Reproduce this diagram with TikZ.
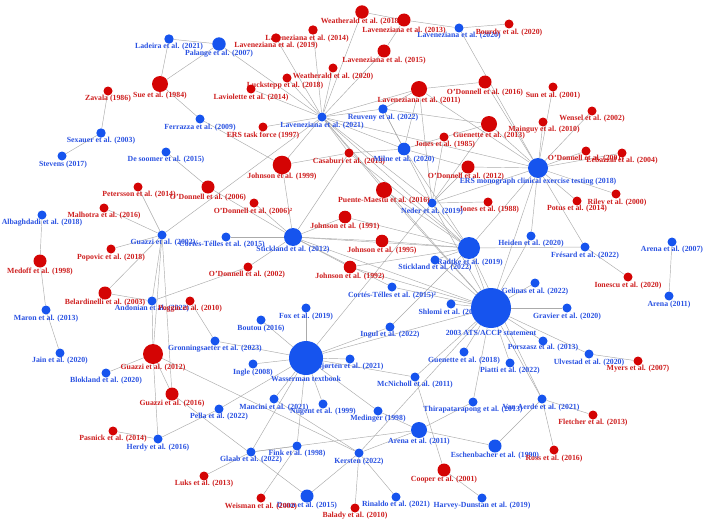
\documentclass[tikz,border=0pt]{standalone}
\usepackage{fontspec}
\setmainfont{Liberation Serif}
\pgfdeclarelayer{bg}
\pgfsetlayers{bg,main}
\definecolor{B}{RGB}{22,84,238}
\definecolor{R}{RGB}{212,4,4}
\definecolor{Btxt}{RGB}{42,82,226}
\definecolor{Rtxt}{RGB}{206,30,30}
\tikzset{
  dot/.style={circle,inner sep=0pt,draw=none},
  lbl/.style={inner sep=0pt,font=\bfseries\fontsize{7.8}{8}\selectfont},
  edge/.style={draw=black!33,line width=0.45pt}
}
\newcommand\gn[8]{%
  \node[dot,fill=#5,minimum size={2*#4}] (#1) at (#2,#3) {};
  \node[lbl,text=#5txt] (#1-l) at (#7,#8) {#6};
}
\begin{document}
\begin{tikzpicture}[x=1pt,y=-1pt]
\begin{pgfonlayer}{bg}
\fill[white] (0,0) rectangle (704,527);
\end{pgfonlayer}
\useasboundingbox (0,0) rectangle (704,527);
\gn{lad}{169}{39}{4.7}{B}{Ladeira et al. (2021)}{169}{47}
\gn{pal}{219}{44}{6.7}{B}{Palange et al. (2007)}{219}{54}
\gn{sue}{160}{84}{8}{R}{Sue et al. (1984)}{160}{96}
\gn{zav}{108}{91}{4.5}{R}{Zavala (1986)}{108}{99}
\gn{fer}{200}{119}{4.5}{B}{Ferrazza et al. (2009)}{200}{128}
\gn{sex}{101}{133}{4.7}{B}{Sexauer et al. (2003)}{101}{141}
\gn{ste}{62}{156}{4.5}{B}{Stevens (2017)}{63}{165}
\gn{des}{166}{152}{4.5}{B}{De soomer et al. (2015)}{166}{160}
\gn{wea18}{362}{12}{6.7}{R}{Weatherald et al. (2018)}{361}{22}
\gn{lav13}{404}{20}{6.5}{R}{Laveneziana et al. (2013)}{404}{31}
\gn{lav20}{459}{28}{4.5}{B}{Laveneziana et al. (2020)}{459}{36}
\gn{bou}{509}{24}{4.5}{R}{Bourdy et al. (2020)}{509}{33}
\gn{lav14}{313}{30}{4.7}{R}{Laveneziana et al. (2014)}{307}{39}
\gn{lav19}{276}{38}{4.7}{R}{Laveneziana et al. (2019)}{276}{46}
\gn{lav15}{384}{51}{6.5}{R}{Laveneziana et al. (2015)}{384}{61}
\gn{wea20}{333}{68}{4.5}{R}{Weatherald et al. (2020)}{333}{77}
\gn{luc}{287}{78}{4.5}{R}{Luckstepp et al. (2018)}{285}{86}
\gn{lavi}{251}{89}{4.5}{R}{Laviolette et al. (2014)}{251}{98}
\gn{lav21}{322}{117}{4.5}{B}{Laveneziana et al. (2021)}{322}{126}
\gn{reu}{383}{109}{4.7}{B}{Reuveny et al. (2022)}{383}{118}
\gn{lav11}{419}{89}{8}{R}{Laveneziana et al. (2011)}{419}{101}
\gn{ers97}{263}{127}{4.5}{R}{ERS task force (1997)}{263}{136}
\gn{cas}{349}{153}{4.5}{R}{Casaburi et al. (2013)}{349}{162}
\gn{joh99}{282}{165}{9.3}{R}{Johnson et al. (1999)}{282}{177}
\gn{mil}{404}{149}{6.3}{B}{Milne et al. (2020)}{404}{160}
\gn{jon85}{444}{137}{4.5}{R}{Jones et al. (1985)}{445}{145}
\gn{gue13}{489}{124}{8}{R}{Guenette et al. (2013)}{489}{136}
\gn{odo16}{485}{82}{6.5}{R}{O'Donnell et al. (2016)}{485}{93}
\gn{odo12}{468}{167}{6.5}{R}{O'Donnell et al. (2012)}{466}{177}
\gn{sun}{553}{87}{4.5}{R}{Sun et al. (2001)}{553}{96}
\gn{wen}{592}{111}{4.5}{R}{Wensel et al. (2002)}{592}{119}
\gn{mai}{543}{122}{4.5}{R}{Mainguy et al. (2010)}{544}{130}
\gn{ersm}{538}{168}{10}{B}{ERS monograph clinical exercise testing (2018)}{538}{182}
\gn{odo04}{586}{151}{4.5}{R}{O'Donnell et al. (2001)}{586}{159}
\gn{x04}{622}{153}{4.5}{R}{Lebazzal et al. (2004)}{622}{161}
\gn{ril}{616}{194}{4.5}{R}{Riley et al. (2000)}{617}{203}
\gn{pot}{577}{201}{4.5}{R}{Potus et al. (2014)}{577}{209}
\gn{jon88}{488}{202}{4.5}{R}{Jones et al. (1988)}{489}{210}
\gn{ned}{432}{203}{4.5}{B}{Neder et al. (2019)}{432}{212}
\gn{pue}{384}{190}{8}{R}{Puente-Maestu et al. (2016)}{384}{201}
\gn{joh91}{345}{217}{6.3}{R}{Johnson et al. (1991)}{345}{227}
\gn{sti12}{293}{237}{9}{B}{Stickland et al. (2012)}{293}{250}
\gn{joh95}{382}{241}{6.3}{R}{Johnson et al. (1995)}{382}{251}
\gn{joh92}{350}{267}{6.3}{R}{Johnson et al. (1992)}{350}{277}
\gn{odo02}{248}{267}{4.5}{R}{O'Donnell et al. (2002)}{247}{275}
\gn{odo06b}{254}{203}{4.5}{R}{O'Donnell et al. (2006)²}{253}{212}
\gn{odo06}{208}{187}{6.5}{R}{O'Donnell et al. (2006)}{208}{198}
\gn{cor15}{226}{237}{4.5}{B}{Cortés-Télles et al. (2015)}{222}{245}
\gn{rad}{469}{248}{11}{B}{Radtke et al. (2019)}{470}{263}
\gn{sti22}{435}{260}{4.5}{B}{Stickland et al. (2022)}{435}{268}
\gn{cor15b}{392}{287}{4.5}{B}{Cortés-Télles et al. (2015)²}{392}{296}
\gn{shl}{451}{304}{4.5}{B}{Shlomi et al. (2021)}{451}{313}
\gn{ats}{491}{308}{20}{B}{2003 ATS/ACCP statement}{491}{333}
\gn{gel}{535}{283}{4.5}{B}{Gelinas et al. (2022)}{535}{292}
\gn{hei}{531}{236}{4.5}{B}{Heiden et al. (2020)}{531}{244}
\gn{fre}{585}{247}{4.5}{B}{Frésard et al. (2022)}{585}{256}
\gn{ion}{628}{277}{4.5}{R}{Ionescu et al. (2020)}{628}{286}
\gn{are07}{672}{242}{4.5}{B}{Arena et al. (2007)}{672}{250}
\gn{are11b}{669}{296}{4.5}{B}{Arena (2011)}{669}{305}
\gn{gra}{567}{308}{4.5}{B}{Gravier et al. (2020)}{567}{317}
\gn{por}{543}{341}{4.5}{B}{Porszasz et al. (2013)}{543}{348}
\gn{ulv}{589}{354}{4.5}{B}{Ulvestad et al. (2020)}{589}{363}
\gn{mye}{638}{361}{4.5}{R}{Myers et al. (2007)}{638}{369}
\gn{pia}{510}{363}{4.5}{B}{Piatti et al. (2022)}{510}{371}
\gn{gue18}{464}{352}{4.5}{B}{Guenette et al. (2018)}{464}{361}
\gn{van}{542}{399}{4.5}{B}{Van Aerde et al. (2021)}{541}{408}
\gn{fle}{593}{415}{4.5}{R}{Fletcher et al. (2013)}{593}{423}
\gn{thi}{473}{402}{4.5}{B}{Thirapatarapong et al. (2013)}{473}{410}
\gn{esc}{495}{446}{6.5}{B}{Eschenbacher et al. (1990)}{495}{456}
\gn{ros}{554}{450}{4.5}{R}{Ross et al. (2016)}{554}{459}
\gn{coo}{444}{470}{6.5}{R}{Cooper et al. (2001)}{444}{480}
\gn{har}{482}{498}{4.5}{B}{Harvey-Dunstan et al. (2019)}{482}{506}
\gn{rin}{396}{497}{4.5}{B}{Rinaldo et al. (2021)}{396}{505}
\gn{bal}{355}{508}{4.5}{R}{Balady et al. (2010)}{355}{516}
\gn{ker}{359}{453}{4.5}{B}{Kersten (2022)}{359}{462}
\gn{are11}{419}{430}{8}{B}{Arena et al. (2011)}{419}{442}
\gn{med}{378}{411}{4.5}{B}{Medinger (1998)}{378}{419}
\gn{mcn}{415}{377}{4.5}{B}{McNicholl et al. (2011)}{415}{385}
\gn{bjo}{350}{359}{4.5}{B}{Bjørten et al. (2021)}{350}{367}
\gn{was}{306}{358}{17}{B}{Wasserman textbook}{306}{379}
\gn{ing}{253}{364}{4.5}{B}{Ingle (2008)}{253}{373}
\gn{man}{274}{399}{4.5}{B}{Mancini et al. (2021)}{274}{408}
\gn{nug}{323}{404}{4.5}{B}{Nugent et al. (1999)}{323}{412}
\gn{fin}{297}{446}{4.5}{B}{Fink et al. (1998)}{297}{454}
\gn{gla}{251}{452}{4.5}{B}{Glaab et al. (2022)}{251}{460}
\gn{dun}{307}{496}{6.5}{B}{Dunn et al. (2015)}{307}{506}
\gn{wei}{261}{498}{4.5}{R}{Weisman et al. (2002)}{261}{507}
\gn{luk}{204}{476}{4.5}{R}{Luks et al. (2013)}{204}{484}
\gn{her}{158}{439}{4.5}{B}{Herdy et al. (2016)}{158}{448}
\gn{pas}{113}{431}{4.5}{R}{Pasnick et al. (2014)}{113}{439}
\gn{pel}{219}{409}{4.5}{B}{Pella et al. (2022)}{219}{417}
\gn{gua16}{172}{394}{6.5}{R}{Guazzi et al. (2016)}{172}{404}
\gn{gua12}{153}{354}{10}{R}{Guazzi et al. (2012)}{153}{368}
\gn{blo}{106}{373}{4.5}{B}{Blokland et al. (2020)}{106}{381}
\gn{jai}{60}{353}{4.5}{B}{Jain et al. (2020)}{60}{361}
\gn{gro}{215}{341}{4.5}{B}{Gronningsaeter et al. (2023)}{215}{349}
\gn{mar}{46}{310}{4.5}{B}{Maron et al. (2013)}{46}{319}
\gn{medf}{40}{261}{6.5}{R}{Medoff et al. (1998)}{40}{272}
\gn{alb}{42}{215}{4.5}{B}{Albaghdadi et al. (2018)}{42}{223}
\gn{pet}{138}{187}{4.5}{R}{Petersson et al. (2014)}{139}{195}
\gn{mal}{104}{208}{4.5}{R}{Malhotra et al. (2016)}{104}{216}
\gn{gua02}{162}{235}{4.5}{B}{Guazzi et al. (2002)}{163}{243}
\gn{pop}{111}{249}{4.5}{R}{Popovic et al. (2018)}{111}{258}
\gn{bel}{105}{293}{6.5}{R}{Belardinelli et al. (2003)}{105}{303}
\gn{and}{152}{301}{4.5}{B}{Andonian et al. (2022)}{152}{309}
\gn{pog}{190}{301}{4.5}{R}{Poggio et al. (2010)}{190}{309}
\gn{bout}{261}{320}{4.5}{B}{Boutou (2016)}{261}{329}
\gn{fox}{306}{308}{4.5}{B}{Fox et al. (2019)}{306}{317}
\gn{ingu}{390}{327}{4.5}{B}{Ingul et al. (2022)}{390}{335}
\begin{pgfonlayer}{bg}
\foreach \a/\b in {lad/pal,lad/sue,pal/sue,sue/fer,fer/joh99,zav/sex,sex/ste,des/odo06,pal/lav21,
lav21/lav19,lav21/lav14,lav21/wea18,lav21/lav15,lav21/wea20,lav21/luc,lav21/lavi,lav21/ers97,lav21/reu,lav21/lav11,lav21/joh99,lav21/cas,lav21/ersm,lav21/ned,lav21/rad,lav21/ats,lav21/gua02,lav21/mil,lav21/pue,
wea18/lav13,lav13/lav20,lav20/bou,lav20/ersm,lav13/lav15,
lav11/reu,lav11/mil,lav11/ned,lav11/odo16,lav11/ersm,
reu/mil,reu/gue13,reu/ned,mil/cas,mil/odo12,mil/gue13,mil/rad,
gue13/ned,jon85/ned,odo12/ned,jon88/ned,ned/ersm,ned/rad,ned/ats,ned/was,
odo16/ersm,sun/ersm,wen/ersm,mai/ersm,odo04/ersm,x04/ersm,ril/ersm,pot/ersm,gue13/ersm,odo12/ersm,ersm/hei,ersm/fre,ersm/rad,ersm/ats,
hei/ats,rad/fre,fre/ion,are07/are11b,
ats/gel,ats/gra,ats/por,ats/ulv,ulv/mye,ats/van,rad/van,van/fle,van/ros,van/esc,esc/are11,thi/ats,thi/are11,gue18/ats,mcn/ats,pia/ats,shl/ats,cor15b/ats,sti22/ats,sti22/rad,rad/ats,
ker/ats,mcn/was,mcn/coo,coo/har,
sti12/joh99,sti12/cas,sti12/joh91,sti12/joh95,sti12/joh92,sti12/odo02,sti12/odo06b,sti12/cor15,sti12/cor15b,sti12/ats,sti12/odo06,sti12/rad,
joh91/rad,joh95/rad,joh92/rad,joh92/ats,pue/rad,pue/ats,cas/rad,cas/joh99,
was/fox,was/bout,was/ing,was/bjo,was/gro,was/man,was/nug,was/fin,was/gla,was/med,was/pel,was/ingu,was/ats,
ingu/rad,pog/gro,and/odo02,and/bel,and/gua12,gua02/and,gua02/pet,gua02/mal,gua02/pop,gua02/bel,gua02/gua12,gua02/gua16,
gua12/blo,gua12/gua16,gua12/her,gua12/ker,gua16/dun,pel/her,her/pas,luk/gla,gla/fin,gla/are11,fin/wei,ker/dun,ker/bal,ker/rin,ker/are11,med/are11,man/ker,
alb/medf,medf/mar,mar/jai}
  \draw[edge] (\a) -- (\b);
\end{pgfonlayer}
\end{tikzpicture}
\end{document}
